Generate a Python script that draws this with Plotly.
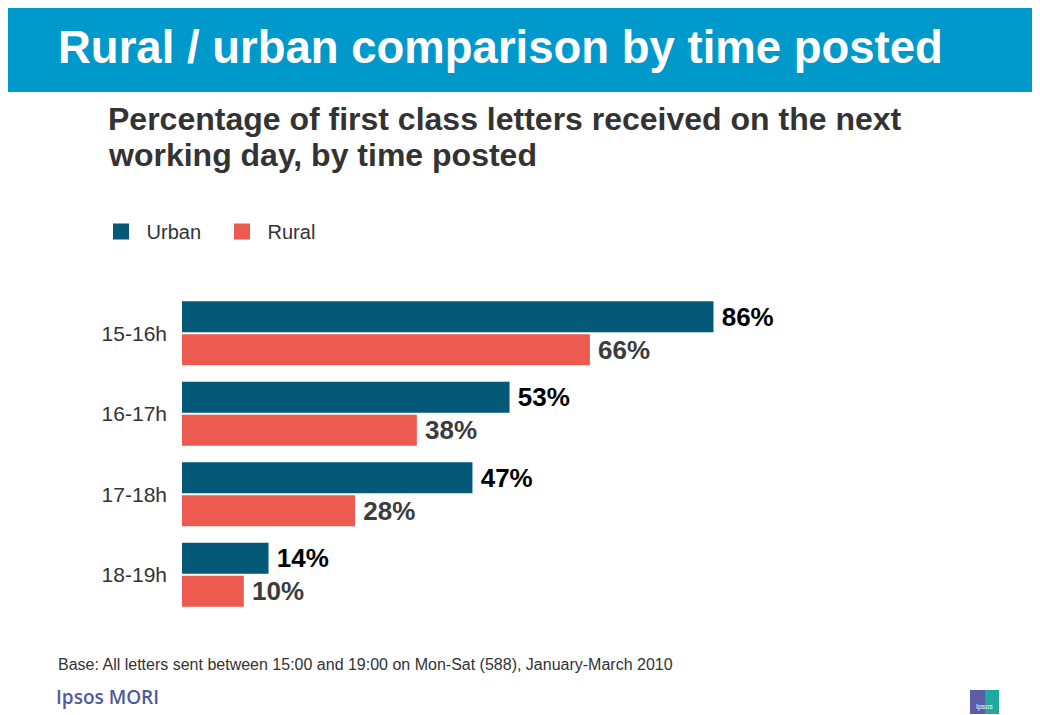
import plotly.graph_objects as go

# Données
time_slots = ["15-16h", "16-17h", "17-18h", "18-19h"]
urban = [86, 53, 47, 14]
rural = [66, 38, 28, 10]
series_names = ["Urban", "Rural"]

URBAN_COLOR = "#035977"
RURAL_COLOR = "#EC5A50"
HEADER_COLOR = "#0099CC"
FONT = "Liberation Sans, Arial, sans-serif"

# La page ajoute une marge de 8 px autour du graphique
OFF = 8
W, H = 1040 - OFF, 715 - OFF
L, R, T, B = 182 - OFF, 240, 293 - OFF, 100
PW, PH = W - L - R, H - T - B


def px(x):
    return (x - OFF - L) / PW


def py(y):
    return (H - B - (y - OFF)) / PH


fig = go.Figure()

# Barres
for vals, color, txt_color in [(urban, URBAN_COLOR, "#000000"),
                               (rural, RURAL_COLOR, "#3C3C3C")]:
    fig.add_trace(go.Bar(
        y=time_slots, x=vals, orientation="h", showlegend=False,
        marker=dict(color=color, line=dict(width=0)),
        text=[f"\u2009{v}%" for v in vals], textposition="outside",
        textfont=dict(family=FONT, size=26, color=txt_color, weight="bold"),
        cliponaxis=False, hoverinfo="skip",
    ))

# Légende (carrés plus grands que ceux des barres)
for name, color in zip(series_names, [URBAN_COLOR, RURAL_COLOR]):
    fig.add_trace(go.Scatter(
        x=[None], y=[None], mode="markers", name="\u00a0" + name,
        marker=dict(symbol="square", size=16, color=color),
    ))

shapes = [
    # Bandeau titre
    dict(type="rect", xref="paper", yref="paper",
         x0=px(8), x1=px(1040), y0=py(92), y1=py(6),
         fillcolor=HEADER_COLOR, line=dict(width=0), layer="below"),
    # Logo Ipsos
    dict(type="rect", xref="paper", yref="paper",
         x0=px(970), x1=px(985), y0=py(714), y1=py(690),
         fillcolor="#5B5EA6", line=dict(width=0)),
    dict(type="rect", xref="paper", yref="paper",
         x0=px(985), x1=px(999), y0=py(714), y1=py(690),
         fillcolor="#1FA9A0", line=dict(width=0)),
]


def note(text, x, y, size, color, family=FONT, weight="normal", xanchor="left"):
    return dict(text=text, xref="paper", yref="paper", x=px(x), y=py(y),
                xanchor=xanchor, yanchor="middle", showarrow=False,
                font=dict(family=family, size=size, color=color, weight=weight))


annotations = [
    note("Rural / urban comparison by time posted", 56, 48, 45.5, "white", weight="bold"),
    note("Percentage of first class letters received on the next", 106, 119, 32, "#333333", weight="bold"),
    note("working day, by time posted", 106, 155, 32, "#333333", weight="bold"),
    note("Base: All letters sent between 15:00 and 19:00 on Mon-Sat (588), January-March 2010",
         56, 664, 16, "#333333"),
    note("Ipsos MORI", 54, 697, 19, "#4E5AA0", family="Open Sans, sans-serif", weight=600),
    note("Ipsos", 984, 707, 7, "white", xanchor="center"),
]

fig.update_layout(
    width=W, height=H,
    margin=dict(l=L, r=R, t=T, b=B),
    paper_bgcolor="white", plot_bgcolor="white",
    barmode="group", bargap=0.18, bargroupgap=0.06,
    showlegend=True,
    legend=dict(orientation="h", xref="container", yref="container",
                x=(101 - OFF) / W, y=1 - (212 - OFF) / H,
                xanchor="left", yanchor="top", itemsizing="trace",
                entrywidth=76, entrywidthmode="pixels",
                font=dict(family=FONT, size=20, color="#333333"),
                traceorder="normal"),
    xaxis=dict(range=[0, 100], visible=False, fixedrange=True),
    yaxis=dict(autorange="reversed", showgrid=False, zeroline=False,
               showline=False, ticks="", ticklabelstandoff=14,
               tickfont=dict(family=FONT, size=21, color="#333333")),
    shapes=shapes,
    annotations=annotations,
    font=dict(family=FONT),
)

fig.write_html("out.html")
